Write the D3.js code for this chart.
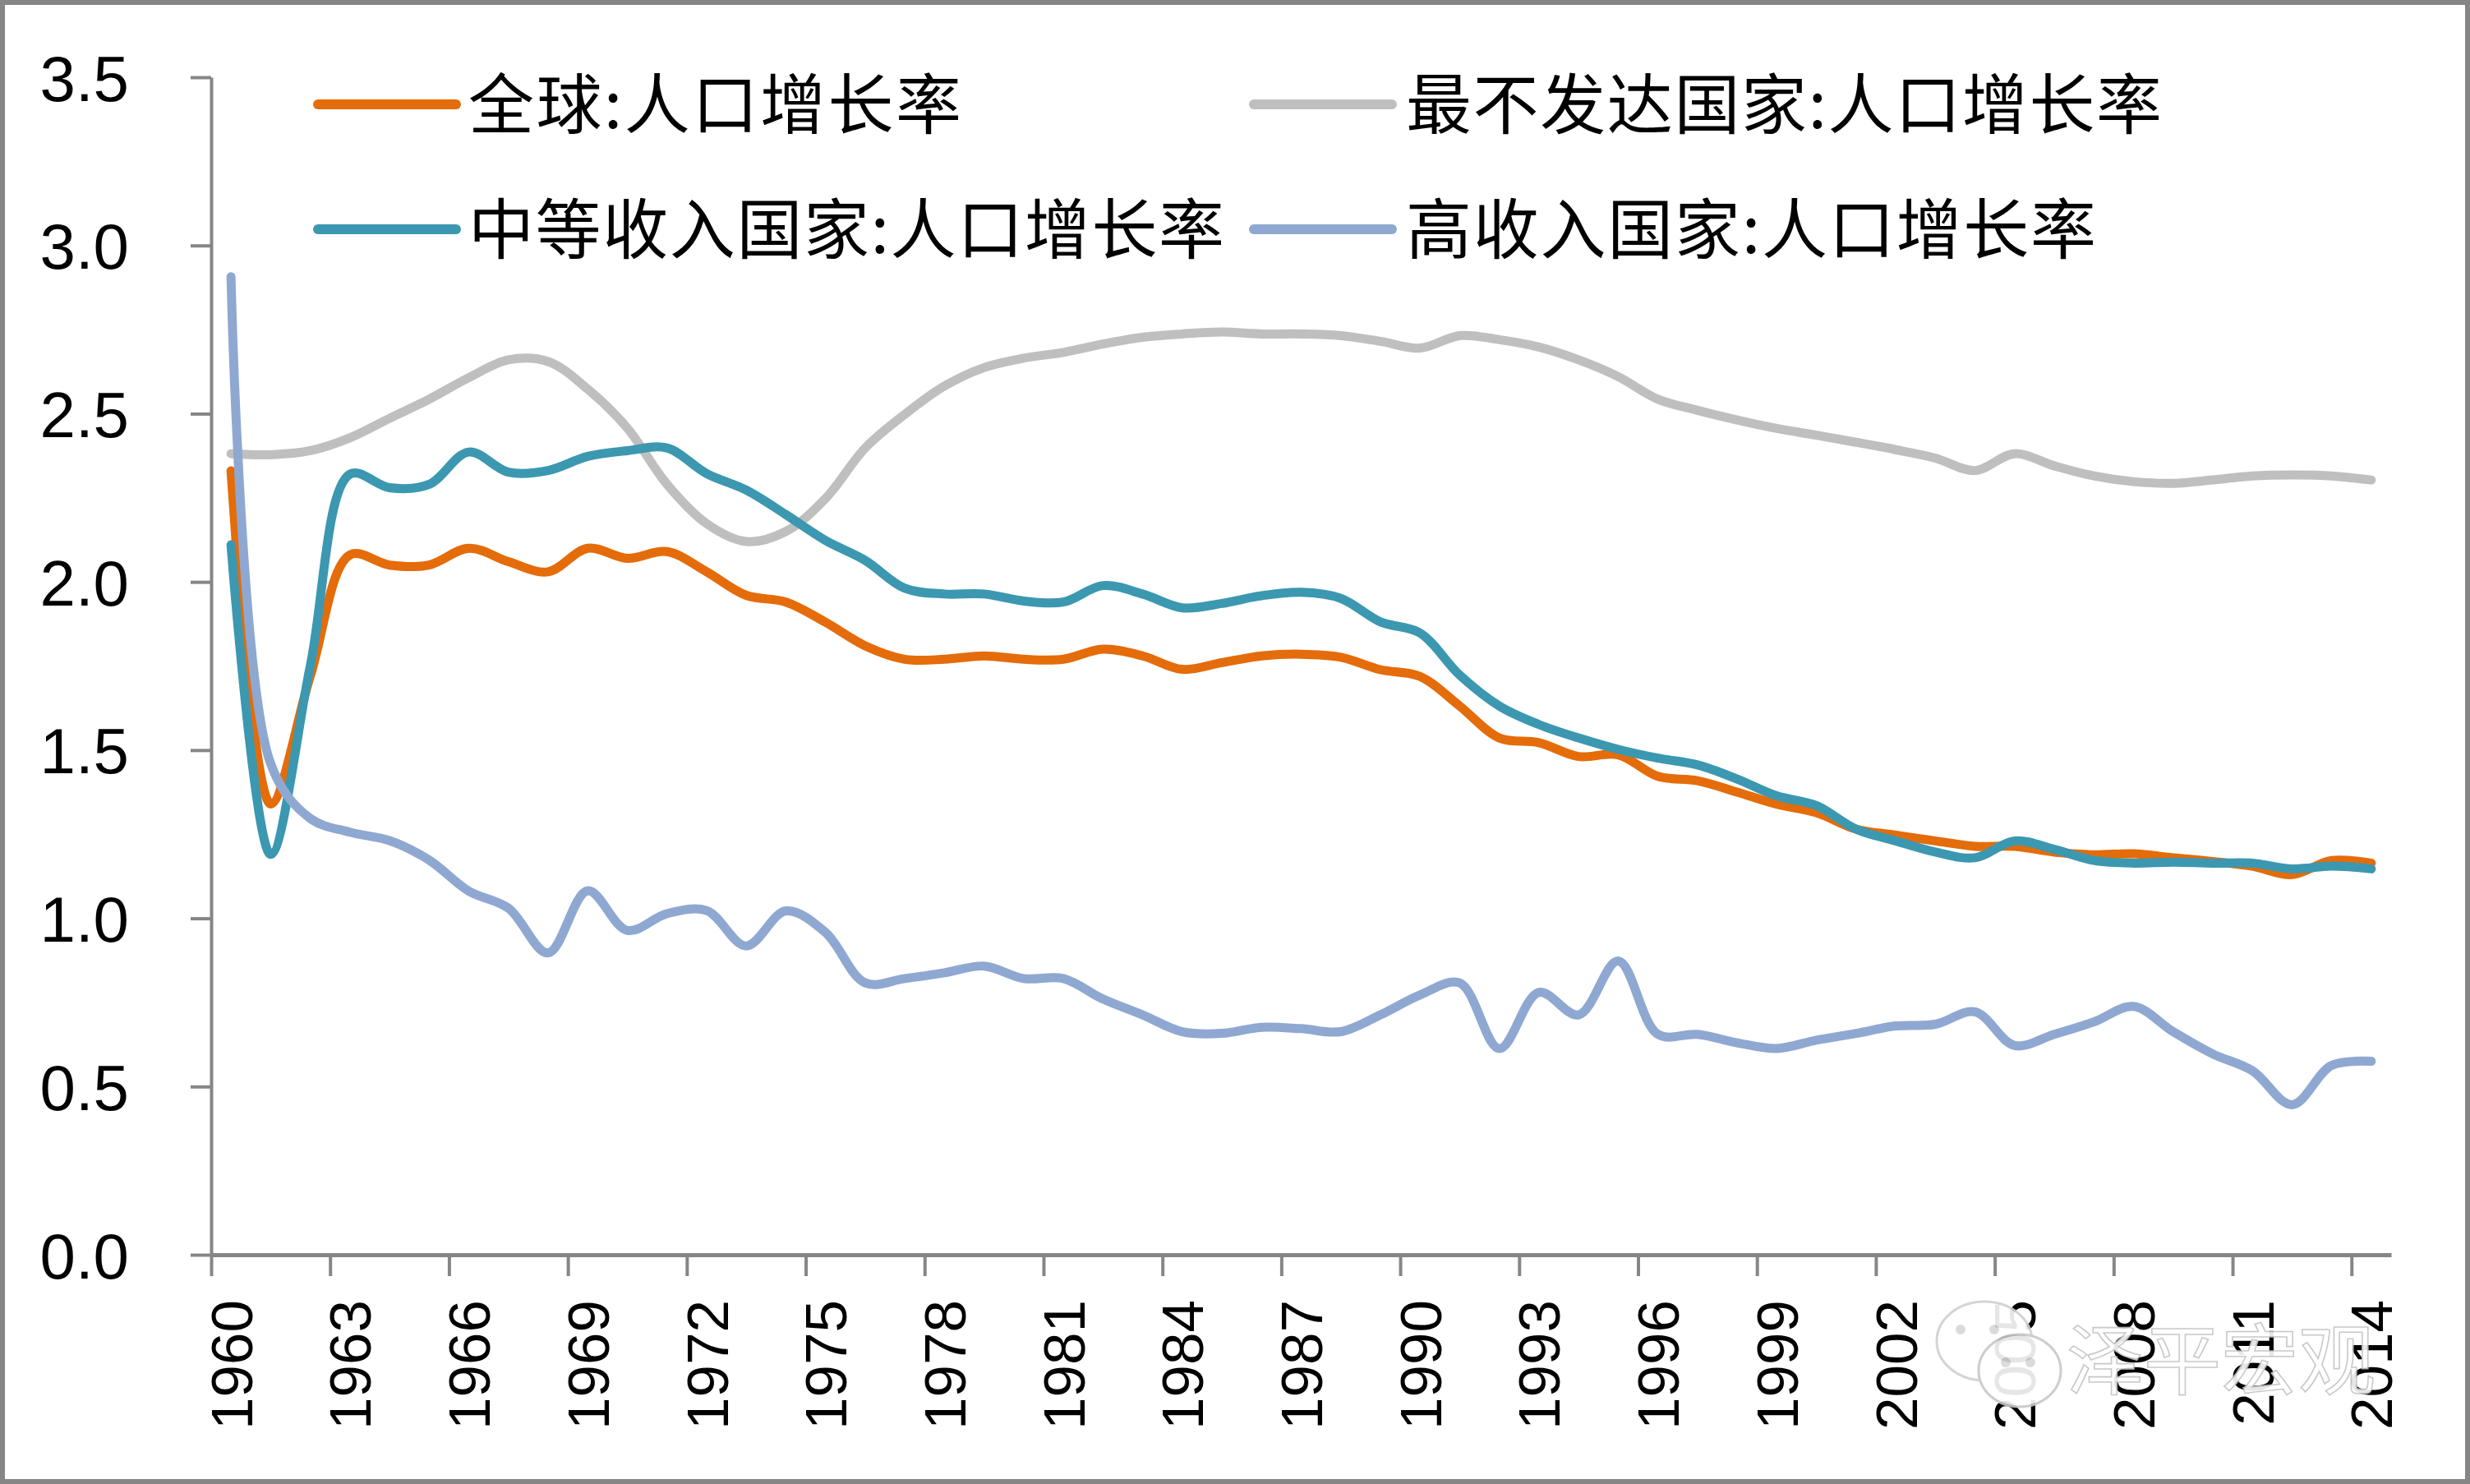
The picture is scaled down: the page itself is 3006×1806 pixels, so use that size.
<!DOCTYPE html>
<html>
<head>
<meta charset="utf-8">
<script src="https://cdn.jsdelivr.net/npm/d3@7"></script>
<style>
  html, body { margin: 0; padding: 0; background: #fff; }
  svg { display: block; }
</style>
</head>
<body>
<svg id="chart" width="3006" height="1806"></svg>
<script>
// ---------------- DATA ----------------
const years = d3.range(1960, 2015);
const tickYears = d3.range(1960, 2015, 3);
const yTicks = [0, 0.5, 1.0, 1.5, 2.0, 2.5, 3.0, 3.5];

const seriesNames = ["全球:人口增长率", "最不发达国家:人口增长率", "中等收入国家:人口增长率", "高收入国家:人口增长率"];
const seriesColors = ["#E46C0A", "#BFBFBF", "#3B98B0", "#8FA8D1"];

const world = [2.33, 1.34, 1.72, 2.08, 2.05, 2.05, 2.10, 2.06, 2.03, 2.10,
  2.07, 2.09, 2.03, 1.96, 1.94, 1.88, 1.81, 1.77, 1.77, 1.78,
  1.77, 1.77, 1.80, 1.78, 1.74, 1.76, 1.78, 1.785, 1.776, 1.739,
  1.719, 1.631, 1.536, 1.522, 1.481, 1.486, 1.422, 1.409, 1.375, 1.339,
  1.314, 1.265, 1.247, 1.230, 1.214, 1.214, 1.197, 1.189, 1.192, 1.180,
  1.169, 1.155, 1.130, 1.172, 1.164];

const leastDeveloped = [2.381, 2.378, 2.39, 2.428, 2.486, 2.543, 2.607, 2.660, 2.655, 2.573,
  2.457, 2.290, 2.173, 2.12, 2.15, 2.248, 2.398, 2.498, 2.582, 2.637,
  2.665, 2.682, 2.707, 2.727, 2.737, 2.743, 2.737, 2.737, 2.732, 2.715,
  2.695, 2.732, 2.72, 2.698, 2.660, 2.610, 2.543, 2.510, 2.481, 2.456,
  2.436, 2.415, 2.393, 2.368, 2.331, 2.381, 2.345, 2.315, 2.298, 2.293,
  2.303, 2.315, 2.318, 2.315, 2.303];

const middleIncome = [2.11, 1.19, 1.75, 2.32, 2.28, 2.29, 2.386, 2.326, 2.331, 2.373,
  2.390, 2.398, 2.322, 2.273, 2.20, 2.123, 2.064, 1.981, 1.964, 1.964,
  1.943, 1.94, 1.989, 1.964, 1.923, 1.936, 1.959, 1.969, 1.951, 1.881,
  1.848, 1.723, 1.631, 1.576, 1.536, 1.502, 1.476, 1.456, 1.414, 1.364,
  1.335, 1.265, 1.230, 1.197, 1.180, 1.230, 1.205, 1.172, 1.164, 1.167,
  1.164, 1.164, 1.147, 1.155, 1.147];

const highIncome = [2.907, 1.46, 1.297, 1.256, 1.231, 1.173, 1.081, 1.030, 0.897, 1.082,
  0.964, 1.014, 1.023, 0.918, 1.022, 0.958, 0.808, 0.821, 0.838, 0.858,
  0.821, 0.821, 0.760, 0.713, 0.663, 0.658, 0.676, 0.672, 0.663, 0.713,
  0.772, 0.808, 0.613, 0.780, 0.713, 0.873, 0.655, 0.655, 0.630, 0.613,
  0.638, 0.658, 0.680, 0.685, 0.722, 0.622, 0.655, 0.692, 0.738, 0.663,
  0.597, 0.547, 0.446, 0.563, 0.575];

const seriesValues = [world, leastDeveloped, middleIncome, highIncome];

// ---------------- LAYOUT ----------------
const svg = d3.select("#chart");
const W = 3006, H = 1806;
const plotLeft = 257, plotRight = 2910, plotTop = 94, plotBottom = 1527;
const axisColor = "#868686";

svg.append("rect").attr("x", 0).attr("y", 0).attr("width", W).attr("height", H).attr("fill", "#fff");

const x = d3.scaleLinear().domain([years[0] - 0.5, years[years.length - 1] + 0.5]).range([plotLeft, plotRight]);
const y = d3.scaleLinear().domain([0, 3.5]).range([plotBottom, plotTop]);

// Y axis
const yAxis = svg.append("g")
  .attr("transform", `translate(${plotLeft},0)`)
  .call(d3.axisLeft(y).tickValues(yTicks).tickFormat(d3.format(".1f")).tickSize(25).tickSizeOuter(0).tickPadding(75));
yAxis.select(".domain").attr("stroke", axisColor).attr("stroke-width", 4);
yAxis.selectAll(".tick line").attr("stroke", axisColor).attr("stroke-width", 4);
yAxis.selectAll(".tick text")
  .attr("fill", "#000")
  .style("font-family", "'Liberation Sans Narrow', 'Liberation Sans', Arial, sans-serif")
  .style("font-size", "78px")
  .attr("dy", "0.36em");

// X axis (ticks at category boundaries every 3 years)
const xAxis = svg.append("g")
  .attr("transform", `translate(0,${plotBottom})`)
  .call(d3.axisBottom(x).tickValues(tickYears.map(d => d - 0.5)).tickFormat("").tickSize(26).tickSizeOuter(0));
xAxis.select(".domain").attr("stroke", axisColor).attr("stroke-width", 5);
xAxis.selectAll(".tick line").attr("stroke", axisColor).attr("stroke-width", 4);

// X labels, rotated, centered on categories
svg.append("g").selectAll("text")
  .data(tickYears)
  .join("text")
  .attr("transform", d => `translate(${x(d)},1582) rotate(-90)`)
  .attr("text-anchor", "end")
  .attr("dy", "0.36em")
  .style("font-family", "'Liberation Sans', Arial, sans-serif")
  .style("font-size", "71px")
  .attr("fill", "#000")
  .text(d => d);

// Watermark (faint)
const wm = svg.append("g").attr("opacity", 0.9);
wm.append("ellipse").attr("cx", 2415).attr("cy", 1632).attr("rx", 58).attr("ry", 48)
  .attr("fill", "#fff").attr("stroke", "#d0d0d0").attr("stroke-width", 3);
wm.append("ellipse").attr("cx", 2458).attr("cy", 1668).attr("rx", 50).attr("ry", 44)
  .attr("fill", "#fff").attr("stroke", "#c8c8c8").attr("stroke-width", 3);
[[2386, 1618], [2427, 1618], [2441, 1658], [2471, 1658]].forEach(([cx, cy]) => {
  wm.append("circle").attr("cx", cx).attr("cy", cy).attr("r", 6).attr("fill", "#d8d8d8");
});
wm.append("text")
  .attr("x", 2515).attr("y", 1690)
  .style("font-family", "'Noto Sans CJK SC', sans-serif")
  .style("font-size", "94px")
  .attr("fill", "#ffffff")
  .attr("stroke", "#c4c4c4")
  .attr("stroke-width", 1.6)
  .text("泽平宏观");

// Lines
const line = d3.line()
  .x((d, i) => x(years[i]))
  .y(d => y(d))
  .curve(d3.curveCatmullRom.alpha(0.5));

svg.append("g").selectAll("path")
  .data(seriesValues)
  .join("path")
  .attr("d", d => line(d))
  .attr("fill", "none")
  .attr("stroke", (d, i) => seriesColors[i])
  .attr("stroke-width", 11)
  .attr("stroke-linecap", "round")
  .attr("stroke-linejoin", "round");

// Legend
const legendPos = [
  { lx: 387, tx: 570, cy: 127 },
  { lx: 1526, tx: 1711, cy: 127 },
  { lx: 387, tx: 570, cy: 279 },
  { lx: 1526, tx: 1711, cy: 279 }
];
const fs = 80;
const legend = svg.append("g").selectAll("g")
  .data(seriesNames)
  .join("g");
legend.append("line")
  .attr("x1", (d, i) => legendPos[i].lx)
  .attr("x2", (d, i) => legendPos[i].lx + 168)
  .attr("y1", (d, i) => legendPos[i].cy)
  .attr("y2", (d, i) => legendPos[i].cy)
  .attr("stroke", (d, i) => seriesColors[i])
  .attr("stroke-width", 12)
  .attr("stroke-linecap", "round");
legend.append("text")
  .attr("x", (d, i) => legendPos[i].tx)
  .attr("y", (d, i) => legendPos[i].cy)
  .attr("dy", "0.36em")
  .attr("textLength", d => (d.length - 1) * fs + fs * 0.5)
  .attr("lengthAdjust", "spacing")
  .style("font-family", "'Noto Sans CJK SC', sans-serif")
  .style("font-size", fs + "px")
  .attr("fill", "#000")
  .text(d => d);

// Outer frame
svg.append("rect").attr("x", 3).attr("y", 3).attr("width", W - 6).attr("height", H - 6)
  .attr("fill", "none").attr("stroke", axisColor).attr("stroke-width", 6);
</script>
</body>
</html>
